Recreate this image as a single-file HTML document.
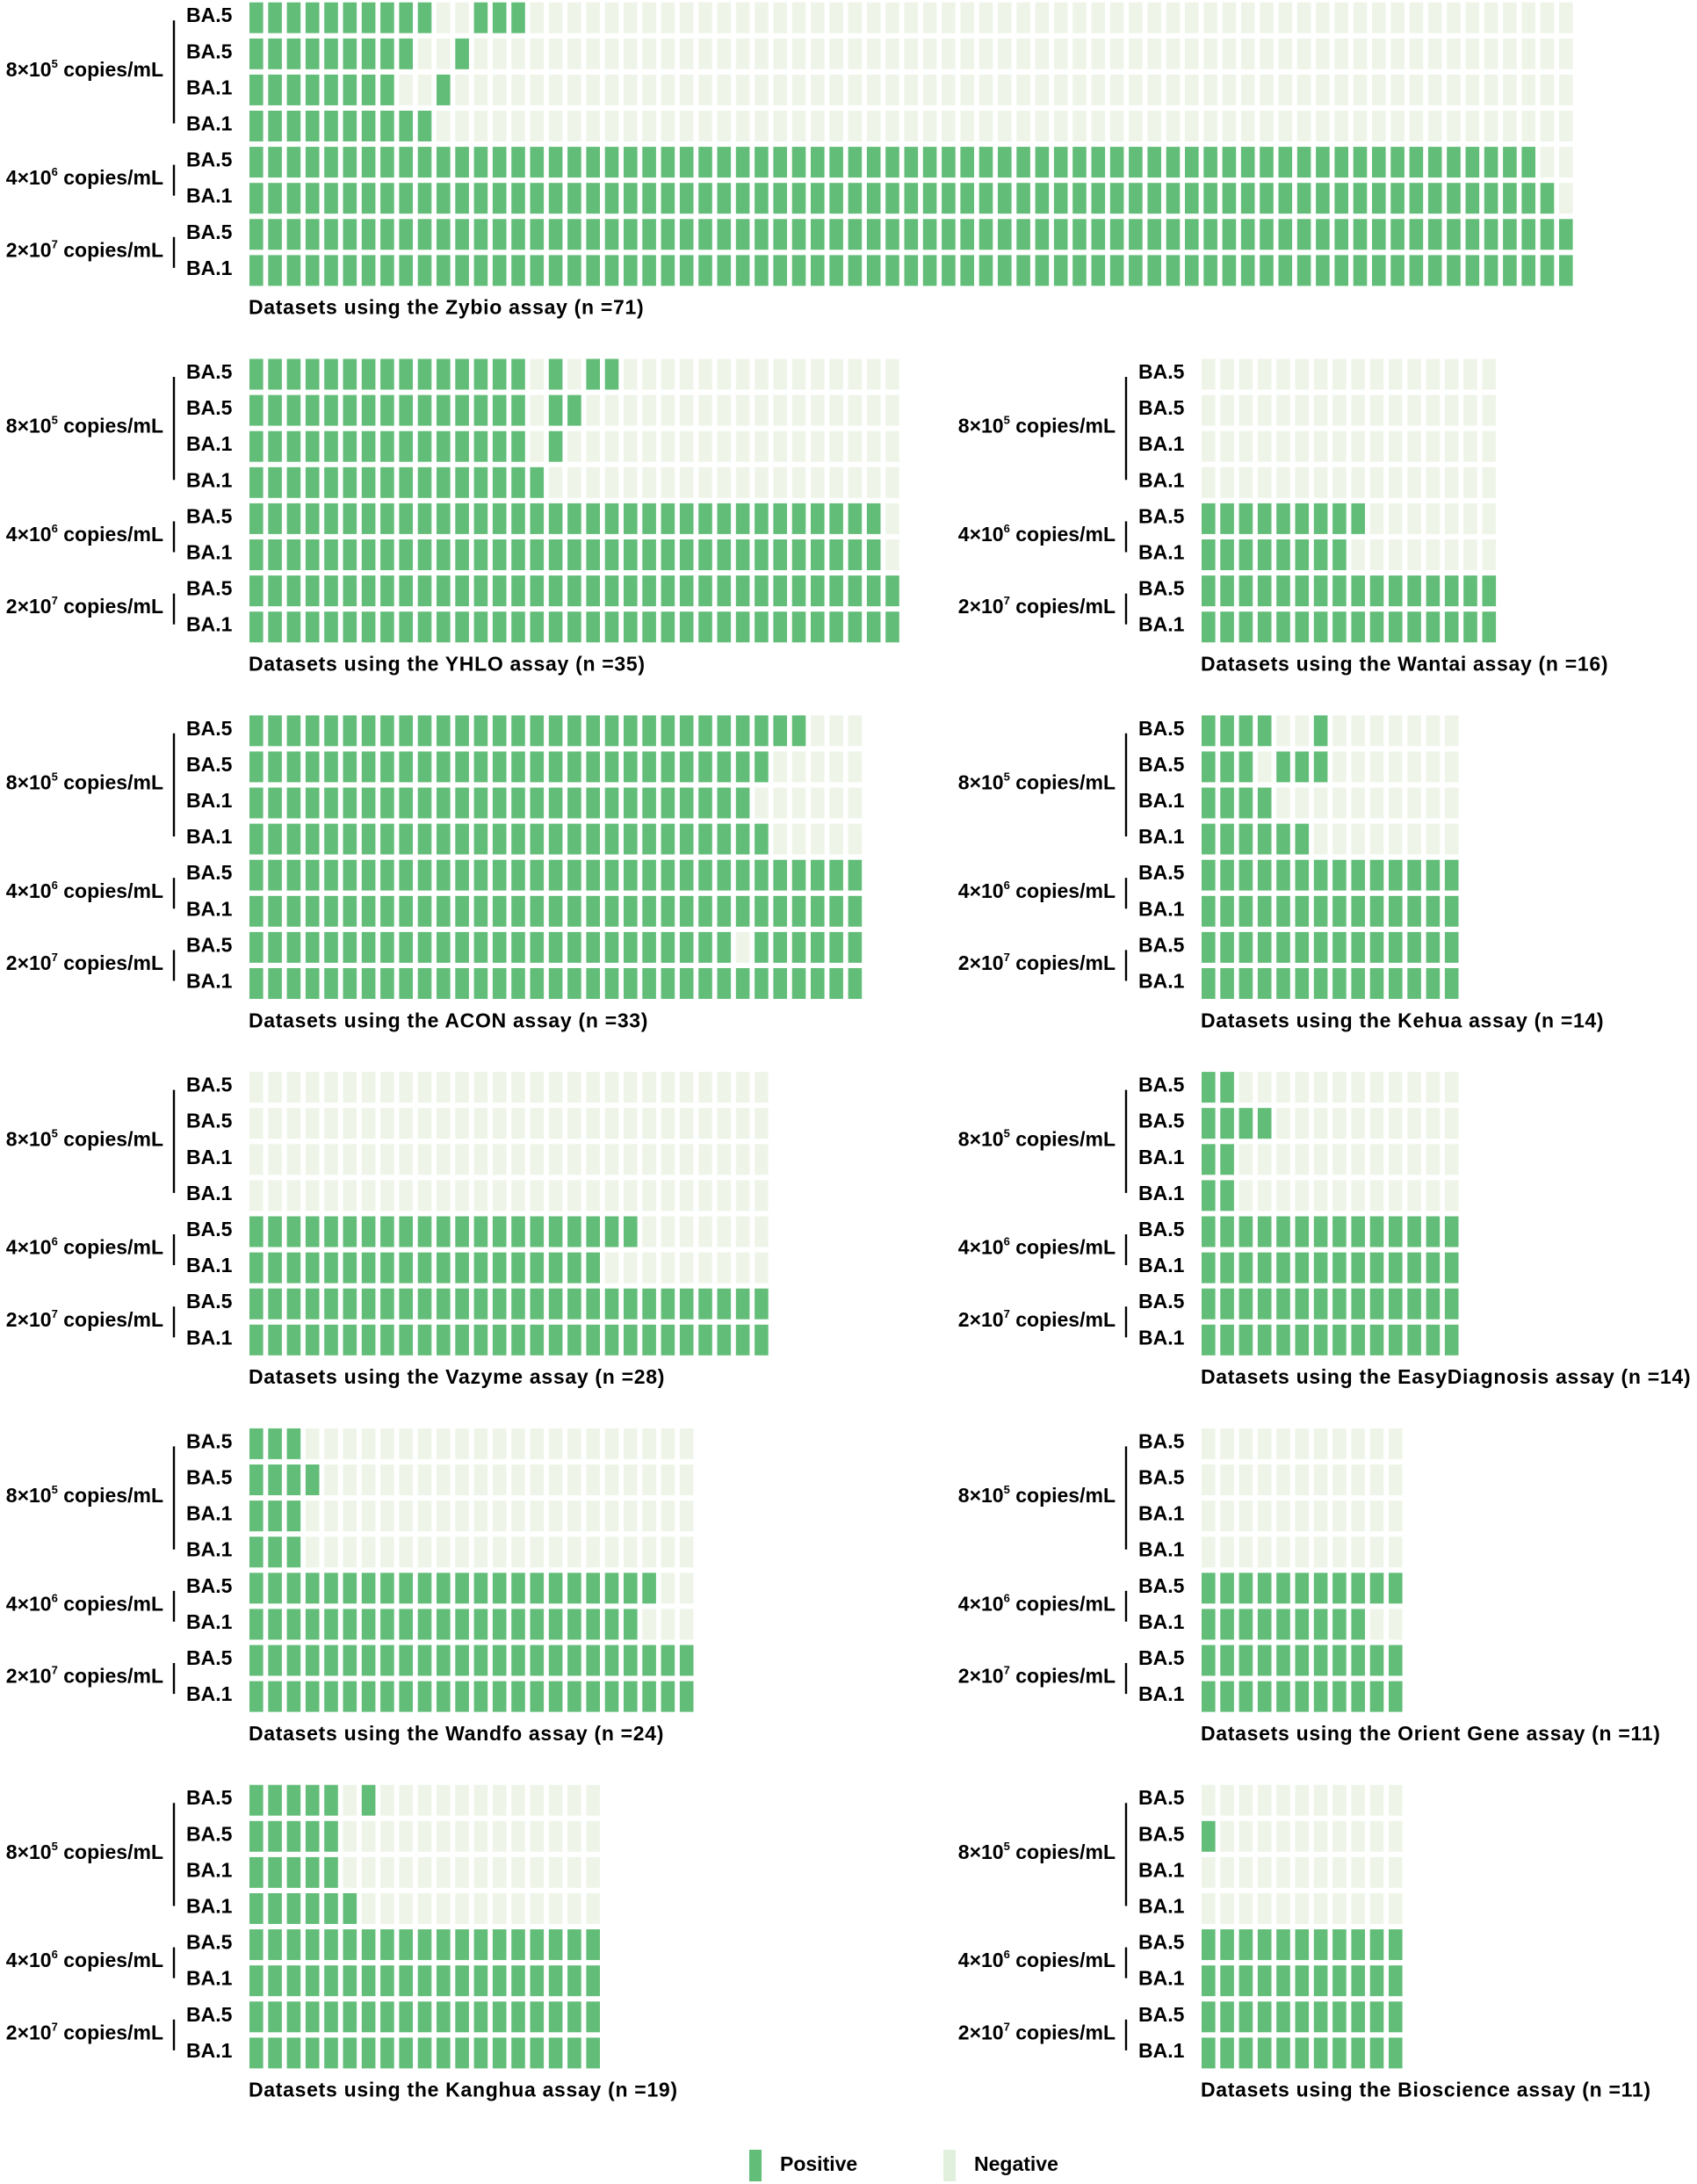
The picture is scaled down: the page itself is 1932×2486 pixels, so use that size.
<!DOCTYPE html>
<html><head><meta charset="utf-8">
<style>
html,body{margin:0;padding:0;background:#fff;}
svg{display:block;font-family:"Liberation Sans",Arial,sans-serif;font-weight:bold;}
</style></head>
<body>
<svg id="chart" width="1932" height="2486" viewBox="0 0 1932 2486" xmlns="http://www.w3.org/2000/svg"></svg>
<script>
// ---- data ----
const assayNames = ["Zybio","YHLO","Wantai","ACON","Kehua","Vazyme","EasyDiagnosis","Wandfo","Orient Gene","Kanghua","Bioscience"];
const datasetCounts = [71,35,16,33,14,28,14,24,11,19,11];
const variantLabels = ["BA.5","BA.5","BA.1","BA.1","BA.5","BA.1","BA.5","BA.1"];
const concBase = ["8×10","4×10","2×10"];
const concExp = ["5","6","7"];
// positive runs per row: [start, endExclusive]
const zybioRuns = [[[0,10],[12,15]],[[0,9],[11,12]],[[0,8],[10,11]],[[0,10]],[[0,69]],[[0,70]],[[0,71]],[[0,71]]];
const yhloRuns = [[[0,15],[16,17],[18,20]],[[0,15],[16,18]],[[0,15],[16,17]],[[0,16]],[[0,34]],[[0,34]],[[0,35]],[[0,35]]];
const wantaiRuns = [[],[],[],[],[[0,9]],[[0,8]],[[0,16]],[[0,16]]];
const aconRuns = [[[0,30]],[[0,28]],[[0,27]],[[0,28]],[[0,33]],[[0,33]],[[0,26],[27,33]],[[0,33]]];
const kehuaRuns = [[[0,4],[6,7]],[[0,3],[4,7]],[[0,4]],[[0,6]],[[0,14]],[[0,14]],[[0,14]],[[0,14]]];
const vazymeRuns = [[],[],[],[],[[0,21]],[[0,19]],[[0,28]],[[0,28]]];
const easyRuns = [[[0,2]],[[0,4]],[[0,2]],[[0,2]],[[0,14]],[[0,14]],[[0,14]],[[0,14]]];
const wandfoRuns = [[[0,3]],[[0,4]],[[0,3]],[[0,3]],[[0,22]],[[0,21]],[[0,24]],[[0,24]]];
const orientRuns = [[],[],[],[],[[0,11]],[[0,9]],[[0,11]],[[0,11]]];
const kanghuaRuns = [[[0,5],[6,7]],[[0,5]],[[0,5]],[[0,6]],[[0,19]],[[0,19]],[[0,19]],[[0,19]]];
const bioRuns = [[],[[0,1]],[],[],[[0,11]],[[0,11]],[[0,11]],[[0,11]]];
const allRuns = [zybioRuns,yhloRuns,wantaiRuns,aconRuns,kehuaRuns,vazymeRuns,easyRuns,wandfoRuns,orientRuns,kanghuaRuns,bioRuns];
// layout slots (column, row of panel)
const panelCol = [0,0,1,0,1,0,1,0,1,0,1];
const panelRow = [0,1,1,2,2,3,3,4,4,5,5];

// ---- layout ----
const NS = "http://www.w3.org/2000/svg";
const svg = document.getElementById("chart");
const POS = "#62bd78", NEG = "#eef5e8";
const colOffset = [0,1084];
const gridX0 = 284, pitchX = 21.3, cellW = 15.6;
const panelY0 = 2.7, panelPitch = 405.8, rowPitch = 41.1, cellH = 35;
function mk(tag, attrs, parent){ const e=document.createElementNS(NS,tag); for(const k in attrs) e.setAttribute(k,attrs[k]); (parent||svg).appendChild(e); return e; }
function xScale(col,i){ return gridX0+colOffset[col]+i*pitchX; }
function yScale(prow,r){ return panelY0+prow*panelPitch+r*rowPitch; }
function isPos(runs,i){ return runs.some(r=>i>=r[0]&&i<r[1]); }
const groups=[[0,3],[4,5],[6,7]];

assayNames.forEach((name,p)=>{
  const col=panelCol[p], prow=panelRow[p], n=datasetCounts[p], runs=allRuns[p];
  const off=colOffset[col];
  const g=mk("g",{});
  
  
  for(let r=0;r<8;r++){
    const ry=yScale(prow,r);
    const lab=mk("text",{x:212+off,y:ry+cellH/2-3,"font-size":23,"dominant-baseline":"central",fill:"#000"},g);
    lab.textContent=variantLabels[r];
    
    
    for(let i=0;i<n;i++){
      const pos=isPos(runs[r],i);
      const c=mk("rect",{x:xScale(col,i),y:ry,width:cellW,height:cellH,fill:pos?POS:NEG},g);
      
      
    }
  }
  groups.forEach((gr,k)=>{
    const yTop=yScale(prow,gr[0])+cellH/2+3, yBot=yScale(prow,gr[1])+cellH/2-3;
    const ln=mk("line",{x1:198+off,x2:198+off,y1:yTop,y2:yBot,stroke:"#000","stroke-width":2.4},g);
    
    
    const cy=(yScale(prow,gr[0])+yScale(prow,gr[1])+cellH)/2;
    const t=mk("text",{x:186+off,y:cy+5,"font-size":23,"text-anchor":"end",fill:"#000"},g);
    
    
    const a=mk("tspan",{},t); a.textContent=concBase[k];
    const b=mk("tspan",{"font-size":13,dy:-10},t); b.textContent=concExp[k];
    const c2=mk("tspan",{dy:10},t); c2.textContent=" copies/mL";
  });
  const cap=mk("text",{x:gridX0+off-1,y:yScale(prow,0)+347,"font-size":23,"dominant-baseline":"central","letter-spacing":0.7,fill:"#000"},g);
  cap.textContent="Datasets using the "+name+" assay (n ="+n+")";
  
  
});

// legend
const lg=mk("g",{});


const legendLabels=["Positive","Negative"];
const legendColors=[POS,"#e0f0dc"];
const legendX=[853,1074];
legendLabels.forEach((l,k)=>{
  const r=mk("rect",{x:legendX[k],y:2447,width:14,height:36,fill:legendColors[k]},lg);
  
  
  const t=mk("text",{x:legendX[k]+35,y:2463,"font-size":23,"dominant-baseline":"central",fill:"#000"},lg);
  t.textContent=l;
  
  
});
</script>
</body></html>
